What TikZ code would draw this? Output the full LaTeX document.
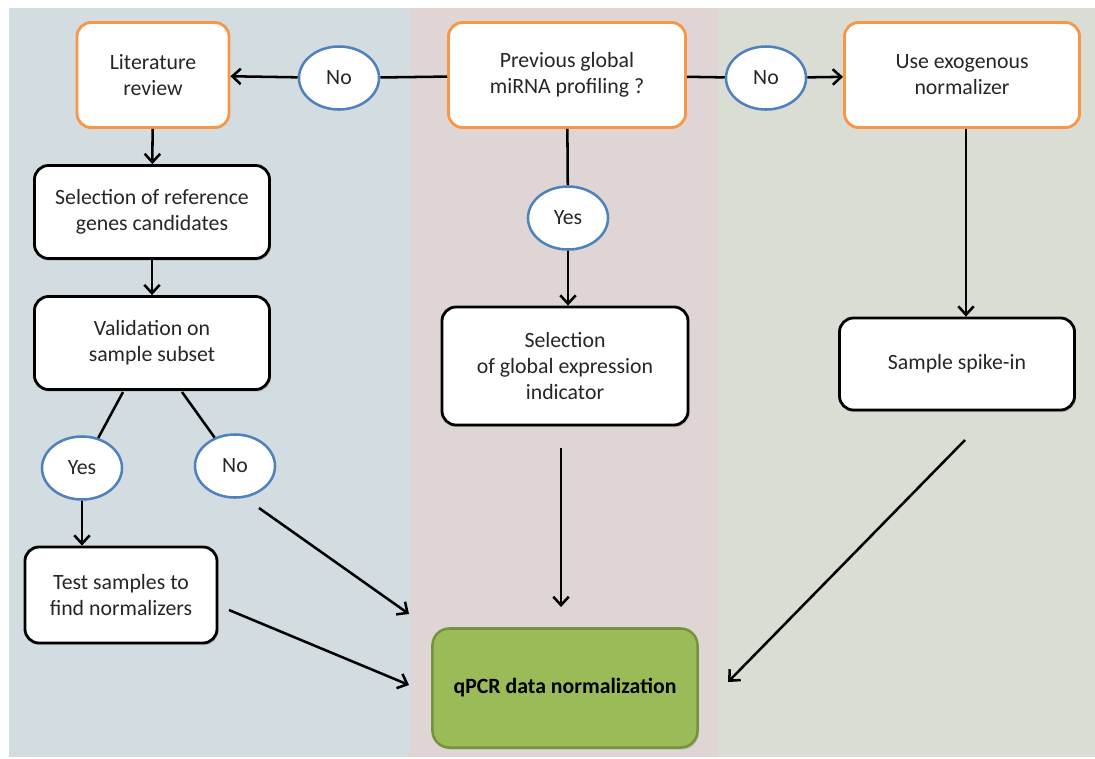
\documentclass[tikz,border=0pt]{standalone}
\usepackage{fontspec}
\setmainfont{Carlito}
\usetikzlibrary{arrows.meta,shapes.geometric,shadows}
\definecolor{leftbg}{HTML}{D3DCE1}
\definecolor{midbg}{HTML}{E0D5D5}
\definecolor{rightbg}{HTML}{DADDD4}
\definecolor{orangeline}{HTML}{F79646}
\definecolor{blueline}{HTML}{4F81BD}
\definecolor{greenfill}{HTML}{9BBB59}
\definecolor{greenline}{HTML}{76923C}
\definecolor{txt}{HTML}{262626}
\tikzset{
	box/.style={rectangle, rounded corners=10pt, fill=white, line width=2pt, align=center,
		text=txt, font=\fontsize{15.5}{18.5}\selectfont},
	startbox/.style={box, draw=orangeline},
	stepbox/.style={box, draw=black, drop shadow={shadow xshift=1pt, shadow yshift=-1.5pt, opacity=.35}},
	answer/.style={ellipse, draw=blueline, fill=white, line width=1.8pt, minimum width=2cm,
		minimum height=1.575cm, text=txt, font=\fontsize{15.5}{18.5}\selectfont},
	result/.style={rectangle, rounded corners=12pt, fill=greenfill, draw=greenline, line width=1.8pt,
		font=\bfseries\fontsize{15.5}{18.5}\selectfont, drop shadow={shadow xshift=1pt, shadow yshift=-1.5pt, opacity=.3}},
	arr/.style={line width=1.8pt, -{Straight Barb[length=6pt,width=11pt,line width=1.8pt]}},
	link/.style={line width=1.8pt}
}
\begin{document}
\begin{tikzpicture}[x=0.025cm, y=-0.025cm]
	\useasboundingbox (0,0) rectangle (1095,758);
	\fill[white] (0,0) rectangle (1095,758);
	\fill[leftbg] (9,8) rectangle (410,757);
	\fill[midbg] (410,8) rectangle (718,757);
	\fill[rightbg] (718,8) rectangle (1095,757);

	\node[startbox, minimum width=3.8cm, minimum height=2.625cm] (lit) at (153,75) {Literature\\review};
	\node[startbox, minimum width=5.925cm, minimum height=2.625cm] (prev) at (567,75) {Previous global\\miRNA profiling ?};
	\node[startbox, minimum width=5.875cm, minimum height=2.625cm] (exo) at (962,75) {Use exogenous\\normalizer};
	\node[answer] (noA) at (339,78) {No};
	\node[answer] (noB) at (766,78) {No};
	\node[answer] (yesM) at (568,218) {Yes};

	\node[stepbox, minimum width=5.875cm, minimum height=2.325cm] (selref) at (152,212) {Selection of reference\\genes candidates};
	\node[stepbox, minimum width=5.875cm, minimum height=2.325cm] (valid) at (152,343) {Validation on\\sample subset};
	\node[answer] (yesL) at (82,468) {Yes};
	\node[answer] (noL) at (235,466) {No};
	\node[stepbox, minimum width=4.8cm, minimum height=2.4cm] (test) at (121,595) {Test samples to\\find normalizers};
	\node[stepbox, minimum width=6.15cm, minimum height=2.95cm] (selglob) at (565,366) {Selection\\of global expression\\indicator};
	\node[stepbox, minimum width=5.875cm, minimum height=2.3cm] (spike) at (957,364) {Sample spike-in};
	\node[result, minimum width=6.625cm, minimum height=2.975cm] (qpcr) at (565,688) {qPCR data normalization};

	\coordinate (noLout) at (259,508);
	\coordinate (noLin) at (409,614);
	\coordinate (testout) at (229,610);
	\coordinate (testin) at (409,685);
	\coordinate (globout) at (561,448);
	\coordinate (globin) at (561,607);
	\coordinate (spikeout) at (965,440);
	\coordinate (spikein) at (728,682);
	\coordinate (validL) at (123,392);
	\coordinate (validR) at (182,392);

	\draw[link] (prev) -- (noA);
	\draw[arr] (noA) -- (lit);
	\draw[link] (prev) -- (noB);
	\draw[arr] (noB) -- (exo);
	\draw[arr] (lit) -- (selref);
	\draw[arr] (selref) -- (valid);
	\draw[link] (validL) -- (yesL);
	\draw[link] (validR) -- (noL);
	\draw[arr] (yesL) -- (yesL |- test.north);
	\draw[arr] (noLout) -- (noLin);
	\draw[arr] (testout) -- (testin);
	\draw[link] (prev) -- (yesM);
	\draw[arr] (yesM) -- (yesM |- selglob.north);
	\draw[arr] (globout) -- (globin);
	\draw[arr] (exo.south -| spike.north) ++(9,0) coordinate (exodown) -- (exodown |- spike.north);
	\draw[arr] (spikeout) -- (spikein);
\end{tikzpicture}
\end{document}
